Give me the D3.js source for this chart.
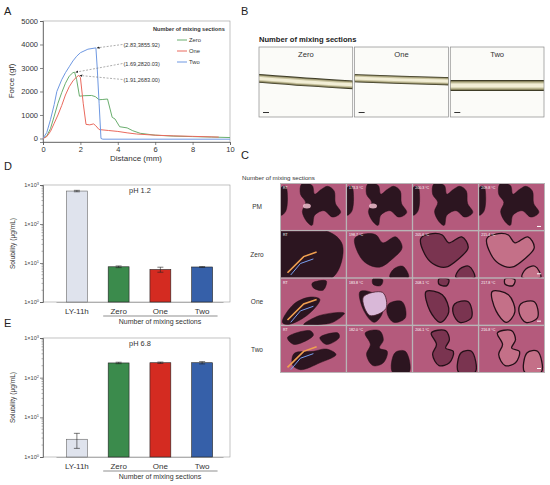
<!DOCTYPE html>
<html>
<head>
<meta charset="utf-8">
<script src="https://cdn.jsdelivr.net/npm/d3@7"></script>
<style>
body { margin: 0; background: #fff; }
svg { font-family: Arial, "Liberation Sans", sans-serif; }
</style>
</head>
<body>
<div id="chart"></div>
<script>
// ---- data ----
var seriesNames = ["Zero", "One", "Two"];
var zeroDist = [0,0.2,0.4,0.6,0.8,1.0,1.2,1.4,1.6,1.69,1.8,1.95,2.2,2.6,2.8,3.0,3.2,3.45,3.7,3.85,4.1,4.5,4.8,5.2,6,7,8,9,10];
var zeroForce = [0,100,420,950,1500,1950,2350,2650,2800,2820,2500,1800,1820,1830,1780,1650,1660,1680,900,830,500,450,330,220,140,100,80,60,40];
var oneDist = [0,0.2,0.4,0.6,0.8,1.0,1.2,1.4,1.6,1.8,1.91,2.0,2.15,2.3,2.5,2.7,2.8,3.0,3.5,4.0,4.5,5,6,7,8,9.4];
var oneForce = [0,80,300,650,1000,1400,1850,2200,2450,2620,2683,2600,1500,600,580,620,560,380,340,300,240,190,140,110,90,60];
var twoDist = [0,0.2,0.4,0.6,0.74,1.0,1.2,1.4,1.6,1.8,2.0,2.4,2.83,2.9,3.0,3.1,3.2,10];
var twoForce = [0,250,800,1450,2000,2500,2800,3050,3300,3500,3650,3800,3856,3000,1500,0,-30,-30];
var peakLabels = ["(2.83,3855.92)", "(1.69,2820.03)", "(1.91,2683.00)"];
var peakX = [2.83, 1.69, 1.91];
var peakY = [3855.92, 2820.03, 2683.00];
var peakLabelY = [4000, 3190, 2510];

var solCategories = ["LY-11h", "Zero", "One", "Two"];
var sol12Mean = [700, 8.0, 6.8, 7.9];
var sol12Err = [30, 0.4, 1.0, 0.2];
var sol68Mean = [2.8, 235, 238, 238];
var sol68Err = [1.15, 10, 10, 16];
var logTicks = [1, 10, 100, 1000];

var photoLabels = ["Zero", "One", "Two"];
// filament centre line (left, right) and thickness, in photo units
var bandCentreLeft = [0.443, 0.443, 0.55];
var bandCentreRight = [0.543, 0.49, 0.55];
var bandWidth = [0.125, 0.12, 0.16];

var hsmRows = ["PM", "Zero", "One", "Two"];
var hsmTemps = [
  ["RT", "173.3 °C", "200.3 °C", "209.8 °C"],
  ["RT", "198.7 °C", "205.6 °C", "215.4 °C"],
  ["RT", "183.8 °C", "208.1 °C", "217.8 °C"],
  ["RT", "182.0 °C", "206.1 °C", "216.8 °C"]
];
// blob outlines in cell units (0..1), first = room temperature cell, second = heated cells
var rtBlobs = [
  [[[0,0.08],[0.07,0.05],[0.1,0.3],[0.07,0.6],[0,0.68]],
   [[0.32,0],[0.48,0.03],[0.52,0.22],[0.62,0.12],[0.72,0.05],[0.82,0.15],[0.84,0.42],[0.92,0.62],[0.8,0.72],[0.66,0.58],[0.52,0.68],[0.48,0.9],[0.4,0.82],[0.33,0.6],[0.38,0.4],[0.3,0.22]]],
  [[[0,0],[0.72,0],[0.95,0.3],[0.8,1],[0,1]]],
  [[[0.02,0.95],[0.2,0.55],[0.45,0.4],[0.6,0.45],[0.4,0.8],[0.1,1]],
   [[0.35,1],[0.6,0.8],[0.98,0.75],[0.8,0.95],[0.6,1]],
   [[0.48,0.1],[0.7,0.05],[0.65,0.25],[0.5,0.2]]],
  [[[0.1,0.25],[0.45,0.1],[0.5,0.2],[0.2,0.4]],
   [[0.2,0.6],[0.5,0.55],[0.7,0.5],[0.85,0.62],[0.6,0.8],[0.3,0.95],[0.18,0.85]],
   [[0.6,0.25],[0.88,0.15],[0.9,0.25],[0.7,0.4]]]
];
var hotBlobs = [
  [[[0,0.08],[0.07,0.05],[0.1,0.3],[0.07,0.6],[0,0.68]],
   [[0.32,0],[0.48,0.03],[0.52,0.22],[0.62,0.12],[0.72,0.05],[0.82,0.15],[0.84,0.42],[0.92,0.62],[0.8,0.72],[0.66,0.58],[0.52,0.68],[0.48,0.9],[0.4,0.82],[0.33,0.6],[0.38,0.4],[0.3,0.22]]],
  [[[0.12,0.15],[0.3,0.05],[0.45,0.08],[0.55,0.25],[0.75,0.12],[0.85,0.35],[0.7,0.6],[0.5,0.78],[0.3,0.7],[0.18,0.5]],
   [[0.72,0.82],[0.86,0.76],[0.95,1],[0.66,1]]],
  [[[0.2,0.28],[0.45,0.35],[0.55,0.72],[0.42,0.95],[0.26,0.7]],
   [[0.64,0.55],[0.85,0.5],[0.9,0.85],[0.72,0.95],[0.62,0.76]],
   [[0.4,0],[0.55,0.02],[0.52,0.15],[0.4,0.12]]],
  [[[0.28,0.15],[0.5,0.1],[0.56,0.3],[0.5,0.48],[0.62,0.55],[0.56,0.8],[0.4,0.86],[0.3,0.62],[0.36,0.4]],
   [[0.74,0.58],[0.9,0.55],[0.96,1],[0.7,1]]]
];

// ---- canvas ----
var svg = d3.select("#chart").append("svg")
  .attr("width", 550)
  .attr("height", 485);
var defs = svg.append("defs");

function panelLetter(t, x, y) {
  svg.append("text").attr("x", x).attr("y", y).attr("font-size", 11).attr("fill", "#222").text(t);
}
panelLetter("A", 4, 15);
panelLetter("B", 241, 15);
panelLetter("C", 241, 159);
panelLetter("D", 4, 170);
panelLetter("E", 4, 327);

function styleAxis(sel, fs) {
  sel.select(".domain").attr("stroke", "#555").attr("stroke-width", 0.7);
  sel.selectAll(".tick line").attr("stroke", "#555").attr("stroke-width", 0.7);
  sel.selectAll(".tick text").attr("font-size", fs).attr("fill", "#333")
    .attr("font-family", "Arial, 'Liberation Sans', sans-serif");
}

// ---- A: force-distance ----
var xA = d3.scaleLinear().domain([0, 10]).range([43, 230]);
var yA = d3.scaleLinear().domain([-150, 5000]).range([142, 21]);
var gA = svg.append("g");
gA.append("rect").attr("x", 43).attr("y", 21).attr("width", 187).attr("height", 121)
  .attr("fill", "none").attr("stroke", "#999").attr("stroke-width", 0.6);
gA.append("g").attr("transform", "translate(0,142)")
  .call(d3.axisBottom(xA).tickValues([0,2,4,6,8,10]).tickSize(3).tickPadding(2))
  .call(styleAxis, 7.5);
gA.append("g").attr("transform", "translate(43,0)")
  .call(d3.axisLeft(yA).tickValues([0,1000,2000,3000,4000,5000]).tickSize(3).tickPadding(2).tickFormat(d3.format("d")))
  .call(styleAxis, 7.5);
gA.append("text").attr("x", 136).attr("y", 161).attr("text-anchor", "middle")
  .attr("font-size", 8).attr("fill", "#333").text("Distance (mm)");
gA.append("text").attr("transform", "translate(14,81) rotate(-90)").attr("text-anchor", "middle")
  .attr("font-size", 8).attr("fill", "#333").text("Force (gf)");

var lineColors = ["#6aae6e", "#ea6a5e", "#6e98e2"];
var curveData = [
  zeroDist.map(function(d, i) { return [d, zeroForce[i]]; }),
  oneDist.map(function(d, i) { return [d, oneForce[i]]; }),
  twoDist.map(function(d, i) { return [d, twoForce[i]]; })
];
var lineA = d3.line().x(function(d) { return xA(d[0]); }).y(function(d) { return yA(d[1]); });
gA.selectAll("path.curve").data(curveData).enter().append("path")
  .attr("class", "curve")
  .attr("fill", "none")
  .attr("stroke", function(d, i) { return lineColors[i]; })
  .attr("stroke-width", 1)
  .attr("stroke-linejoin", "round")
  .attr("d", lineA);

// peak annotations
defs.append("marker").attr("id", "arr")
  .attr("viewBox", "0 0 10 10").attr("refX", 9).attr("refY", 5)
  .attr("markerWidth", 5).attr("markerHeight", 5).attr("orient", "auto")
  .append("path").attr("d", "M0,1L10,5L0,9z").attr("fill", "#222");
peakLabels.forEach(function(lbl, i) {
  gA.append("line")
    .attr("x1", xA(4.25)).attr("y1", yA(peakLabelY[i]))
    .attr("x2", xA(peakX[i]) + 1).attr("y2", yA(peakY[i]))
    .attr("stroke", "#777").attr("stroke-width", 0.6).attr("stroke-dasharray", "2,1.5")
    .attr("marker-end", "url(#arr)");
  gA.append("text").attr("x", xA(4.3)).attr("y", yA(peakLabelY[i]) + 2.2)
    .attr("font-size", 5.6).attr("fill", "#333").text(lbl);
});

// legend
gA.append("text").attr("x", 153).attr("y", 31).attr("font-size", 5.6).attr("font-weight", "bold")
  .attr("fill", "#333").text("Number of mixing sections");
seriesNames.forEach(function(n, i) {
  var y = 40 + i * 11;
  gA.append("line").attr("x1", 177).attr("x2", 187).attr("y1", y).attr("y2", y)
    .attr("stroke", lineColors[i]).attr("stroke-width", 1);
  gA.append("text").attr("x", 189).attr("y", y + 2).attr("font-size", 5.8).attr("fill", "#333").text(n);
});

// ---- B: filament photos ----
var xB = d3.scaleBand().domain(photoLabels).range([259, 544]).paddingInner(0.02);
var gB = svg.append("g");
gB.append("text").attr("x", 259).attr("y", 42).attr("font-size", 7.6).attr("font-weight", "bold")
  .attr("fill", "#222").text("Number of mixing sections");
var filLayers = [[1, "#3e3c27"], [0.8, "#8c8762"], [0.6, "#c9c4a0"], [0.35, "#f2eed6"]];
photoLabels.forEach(function(n, i) {
  var x0 = xB(n), w = xB.bandwidth(), y0 = 47, h = 70;
  var yu = d3.scaleLinear().domain([0, 1]).range([y0, y0 + h]);
  var xu = d3.scaleLinear().domain([0, 1]).range([x0, x0 + w]);
  gB.append("rect").attr("x", x0).attr("y", y0).attr("width", w).attr("height", h)
    .attr("fill", "#fbfbf8");
  var clipId = "bclip" + i;
  defs.append("clipPath").attr("id", clipId)
    .append("rect").attr("x", x0).attr("y", y0).attr("width", w).attr("height", h);
  var centre = d3.line().curve(d3.curveBasis)([
    [xu(-0.05), yu(bandCentreLeft[i])],
    [xu(0.5), yu((bandCentreLeft[i] * 0.4 + bandCentreRight[i] * 0.6))],
    [xu(1.05), yu(bandCentreRight[i])]
  ]);
  var gf = gB.append("g").attr("clip-path", "url(#" + clipId + ")");
  filLayers.forEach(function(l) {
    gf.append("path").attr("d", centre).attr("fill", "none")
      .attr("stroke", l[1]).attr("stroke-width", bandWidth[i] * h * l[0]);
  });
  gB.append("rect").attr("x", x0).attr("y", y0).attr("width", w).attr("height", h)
    .attr("fill", "none").attr("stroke", "#8a8a8a").attr("stroke-width", 0.7);
  gB.append("text").attr("x", x0 + w / 2).attr("y", y0 + 10).attr("text-anchor", "middle")
    .attr("font-size", 7.6).attr("fill", "#333").text(n);
  gB.append("rect").attr("x", x0 + 4).attr("y", y0 + h - 5).attr("width", 6).attr("height", 1)
    .attr("fill", "#333");
});

// ---- C: hot stage microscopy ----
var gC = svg.append("g");
gC.append("text").attr("x", 242).attr("y", 180).attr("font-size", 6.2).attr("fill", "#333")
  .text("Number of mixing sections");
var colC = d3.scaleBand().domain([0, 1, 2, 3]).range([281, 544]).paddingInner(0.02);
var rowC = d3.scaleBand().domain(hsmRows).range([184, 372]).paddingInner(0.03);
gC.append("rect").attr("x", 280).attr("y", 183).attr("width", 265).attr("height", 190).attr("fill", "#b9b4b6");
gC.selectAll("text.rowlab").data(hsmRows).enter().append("text")
  .attr("class", "rowlab")
  .attr("x", 257).attr("y", function(d) { return rowC(d) + rowC.bandwidth() / 2 + 2.5; })
  .attr("text-anchor", "middle").attr("font-size", 6.5).attr("fill", "#333")
  .text(function(d) { return d; });

hsmRows.forEach(function(r, ri) {
  [0, 1, 2, 3].forEach(function(ci) {
    var x0 = colC(ci), y0 = rowC(r), w = colC.bandwidth(), h = rowC.bandwidth();
    var xu = d3.scaleLinear().domain([0, 1]).range([x0, x0 + w]);
    var yu = d3.scaleLinear().domain([0, 1]).range([y0, y0 + h]);
    var blob = d3.line().x(function(d) { return xu(d[0]); }).y(function(d) { return yu(d[1]); })
      .curve(d3.curveCatmullRomClosed.alpha(0.5));
    var cell = gC.append("g");
    cell.append("rect").attr("x", x0).attr("y", y0).attr("width", w).attr("height", h).attr("fill", "#b45a7c");
    var clipId = "clip" + ri + ci;
    defs.append("clipPath").attr("id", clipId)
      .append("rect").attr("x", x0).attr("y", y0).attr("width", w).attr("height", h);
    var inner = cell.append("g").attr("clip-path", "url(#" + clipId + ")");
    var shapes = ci === 0 ? rtBlobs[ri] : hotBlobs[ri];
    var melted = ri > 0 && ci >= 2;
    inner.selectAll("path").data(shapes).enter().append("path")
      .attr("d", blob)
      .attr("fill", melted ? (ci === 3 ? "#c47088" : "#7a3450") : "#2c1520")
      .attr("stroke", "#241018")
      .attr("stroke-width", melted ? 1.3 : 0.5);
    if (ci === 0 && ri > 0) {
      // birefringent crystals at room temperature
      var streak = d3.line().x(function(d) { return xu(d[0]); }).y(function(d) { return yu(d[1]); });
      inner.append("path").attr("d", streak([[0.1, 0.9], [0.35, 0.55], [0.55, 0.45]]))
        .attr("stroke", "#f0a050").attr("stroke-width", 1.6).attr("fill", "none");
      inner.append("path").attr("d", streak([[0.15, 0.95], [0.3, 0.7], [0.5, 0.6]]))
        .attr("stroke", "#7aa0f0").attr("stroke-width", 1).attr("fill", "none");
    }
    if (ci === 1 && ri === 2) {
      inner.append("path").attr("d", blob([[0.25, 0.4], [0.55, 0.3], [0.6, 0.65], [0.35, 0.8]]))
        .attr("fill", "#d9b8d8").attr("stroke", "#4a2030").attr("stroke-width", 0.8);
    }
    if (ri === 0 && ci < 2) {
      inner.append("ellipse").attr("cx", xu(0.4)).attr("cy", yu(0.48)).attr("rx", 4).attr("ry", 2.5)
        .attr("fill", "#f2c0d0").attr("opacity", 0.85);
    }
    cell.append("text").attr("x", x0 + 2).attr("y", y0 + 5).attr("font-size", 3.6)
      .attr("fill", "#fff").text(hsmTemps[ri][ci]);
    if (ci === 3) {
      cell.append("rect").attr("x", x0 + w - 7).attr("y", y0 + h - 4).attr("width", 4).attr("height", 1)
        .attr("fill", "#fff");
    }
  });
});

// ---- D & E: solubility bars ----
var barFill = ["#dfe3ed", "#3b8b4c", "#d42b21", "#3660a9"];
var xS = d3.scaleBand().domain(solCategories).range([56, 223]).paddingInner(0.5).paddingOuter(0.25);

function solPanel(top, bottom, means, errs, title) {
  var y = d3.scaleLog().domain([1, 1000]).range([bottom, top]);
  var g = svg.append("g");
  g.append("rect").attr("x", 43).attr("y", top).attr("width", 187).attr("height", bottom - top)
    .attr("fill", "none").attr("stroke", "#999").attr("stroke-width", 0.6);
  // minor ticks
  var minor = [];
  logTicks.slice(0, 3).forEach(function(t) { for (var k = 2; k < 10; k++) minor.push(t * k); });
  g.selectAll("line.minor").data(minor).enter().append("line")
    .attr("x1", 41.5).attr("x2", 43).attr("y1", y).attr("y2", y)
    .attr("stroke", "#666").attr("stroke-width", 0.5);
  var ax = g.append("g").attr("transform", "translate(43,0)")
    .call(d3.axisLeft(y).tickValues(logTicks).tickSize(3).tickPadding(2).tickFormat(""));
  styleAxis(ax, 5.5);
  logTicks.forEach(function(t, i) {
    var tx = g.append("text").attr("x", 39).attr("y", y(t) + 2).attr("text-anchor", "end")
      .attr("font-size", 5.6).attr("fill", "#444");
    tx.append("tspan").text("1×10");
    tx.append("tspan").attr("dy", -2).attr("font-size", 4).text(i);
  });
  var bx = g.append("g").attr("transform", "translate(0," + bottom + ")")
    .call(d3.axisBottom(xS).tickSize(0).tickPadding(6));
  styleAxis(bx, 8);
  bx.select(".domain").attr("stroke", "#999");
  g.selectAll("rect.bar").data(solCategories).enter().append("rect")
    .attr("class", "bar")
    .attr("x", function(d) { return xS(d); })
    .attr("width", xS.bandwidth())
    .attr("y", function(d, i) { return y(means[i]); })
    .attr("height", function(d, i) { return bottom - y(means[i]); })
    .attr("fill", function(d, i) { return barFill[i]; })
    .attr("stroke", function(d, i) { return i === 0 ? "#666" : "#222"; })
    .attr("stroke-width", 0.6);
  solCategories.forEach(function(c, i) {
    var cx = xS(c) + xS.bandwidth() / 2;
    var y1 = y(means[i] + errs[i]), y2 = y(Math.max(means[i] - errs[i], 1));
    g.append("line").attr("x1", cx).attr("x2", cx).attr("y1", y1).attr("y2", y2)
      .attr("stroke", "#222").attr("stroke-width", 0.6);
    [y1, y2].forEach(function(yy) {
      g.append("line").attr("x1", cx - 3).attr("x2", cx + 3).attr("y1", yy).attr("y2", yy)
        .attr("stroke", "#222").attr("stroke-width", 0.6);
    });
  });
  g.append("text").attr("x", 140).attr("y", top + 8).attr("text-anchor", "middle")
    .attr("font-size", 7.4).attr("fill", "#333").text(title);
  g.append("text").attr("transform", "translate(15," + (top + bottom) / 2 + ") rotate(-90)")
    .attr("text-anchor", "middle").attr("font-size", 6.6).attr("fill", "#333").text("Solubility (μg/mL)");
  g.append("line").attr("x1", xS("Zero") - 5).attr("x2", xS("Two") + xS.bandwidth() + 5)
    .attr("y1", bottom + 14).attr("y2", bottom + 14).attr("stroke", "#444").attr("stroke-width", 0.6);
  g.append("text").attr("x", 160).attr("y", bottom + 22).attr("text-anchor", "middle")
    .attr("font-size", 7).attr("fill", "#333").text("Number of mixing sections");
}
solPanel(185, 302, sol12Mean, sol12Err, "pH 1.2");
solPanel(338, 457, sol68Mean, sol68Err, "pH 6.8");
</script>
</body>
</html>
